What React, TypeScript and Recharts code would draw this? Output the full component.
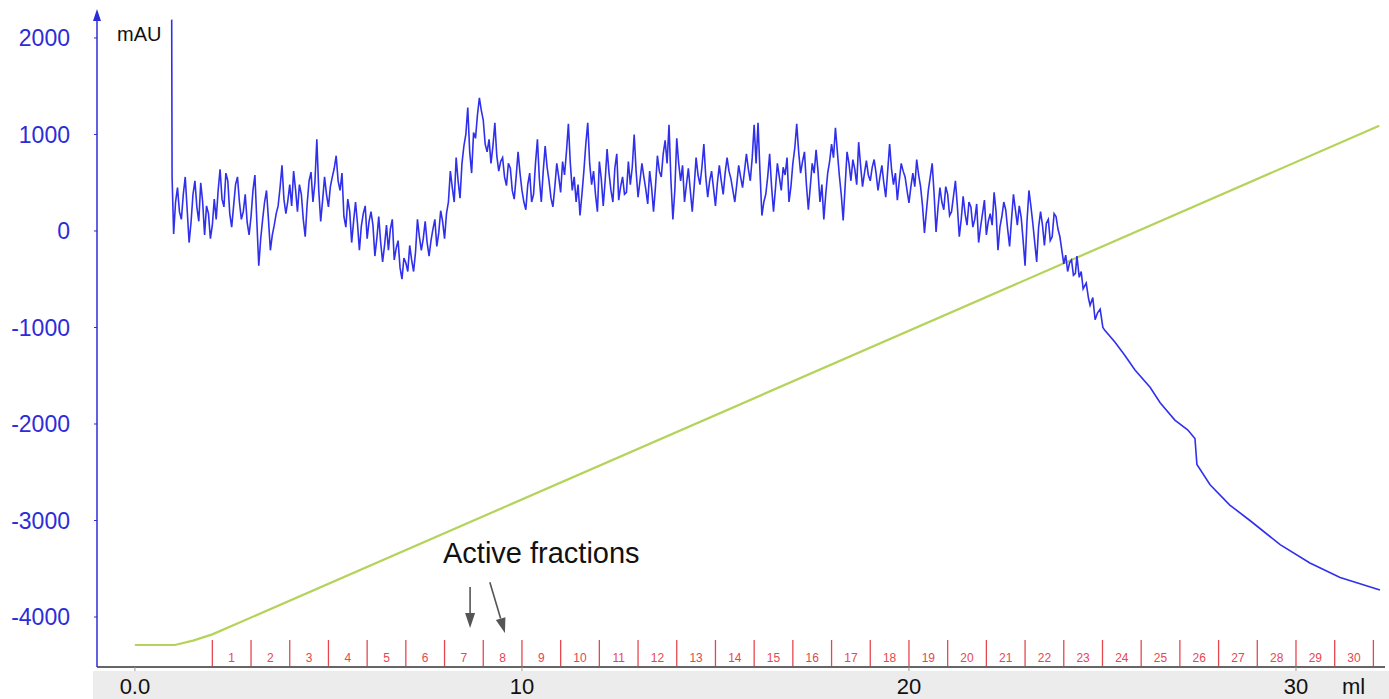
import { LineChart, Line, XAxis, YAxis, ReferenceLine, ReferenceArea, ReferenceDot } from 'recharts'

const FONT = '"Liberation Sans", Arial, sans-serif'
const UV_BLUE = '#3030ec'
const AXIS_BLUE = '#2c2cd8'
const GRADIENT_GREEN = '#b4d35a'
const FRACTION_RED = '#e6474f'

// UV trace (mAU vs ml)
const uvStart = [
    { ml: 0.95, mAU: 2190 },
    { ml: 0.96, mAU: 560 },
    { ml: 1.0, mAU: -30 },
    { ml: 1.05, mAU: 300 },
]

// noisy part, sampled every 0.05 ml from 1.1 to 23.9 ml (one row per ml)
const uvNoiseFrom = 1.1
const uvNoiseStep = 0.05
const uvNoise = [
    450, 200, 120, 380, 560, 220, -120, 90, 380, 520, 250, 100, 500, 300, -40, 260, 180, -80, 60, 330,
    120, 420, 640, 330, 250, 600, 520, 180, 40, 260, 480, 560, 300, 120, 200, 380, 90, -40, 150, 420,
    580, 100, -360, -80, 120, 300, 420, 120, -200, -40, 60, 180, 260, 450, 680, 330, 180, 310, 480, 260,
    620, 430, 200, 480, 380, 120, -60, 280, 520, 610, 300, 500, 950, 420, 100, 320, 560, 380, 250, 460,
    560, 650, 780, 520, 420, 600, 150, 40, 330, 200, -120, 100, 300, 80, -200, 50, 180, 260, -80, 100,
    200, 60, -260, -80, 150, -120, -320, -150, 60, -200, 20, 120, -300, -180, -100, -380, -500, -280, -330, -420,
    -150, -300, -420, -220, 120, -60, -200, -80, 100, -120, -260, -100, 20, 120, -160, -20, 210, 100, -80, 180,
    300, 620, 450, 300, 760, 520, 340, 700, 880, 1000, 1280, 820, 600, 1020, 960, 1200, 1380, 1250, 1150, 900,
    820, 950, 700, 880, 1120, 780, 620, 720, 760, 560, 470, 700, 650, 420, 330, 560, 820, 600, 420, 300,
    220, 480, 600, 300, 380, 700, 950, 540, 300, 620, 880, 660, 520, 340, 250, 460, 700, 560, 400, 720,
    580, 820, 1110, 700, 420, 560, 300, 480, 160, 380, 620, 900, 1120, 700, 480, 620, 380, 200, 720, 540,
    260, 520, 850, 600, 420, 300, 650, 800, 320, 460, 560, 380, 400, 720, 480, 660, 1000, 620, 350, 520,
    700, 560, 430, 280, 620, 450, 200, 460, 780, 620, 560, 800, 940, 700, 1100, 520, 120, 420, 960, 700,
    520, 680, 300, 480, 650, 420, 200, 460, 760, 580, 480, 660, 900, 560, 350, 520, 620, 440, 260, 500,
    680, 520, 380, 600, 760, 620, 540, 420, 300, 480, 680, 560, 450, 620, 800, 640, 520, 760, 1100, 700,
    1120, 620, 160, 300, 380, 560, 800, 460, 200, 440, 700, 560, 420, 660, 580, 760, 300, 460, 700, 860,
    1110, 820, 600, 720, 820, 480, 220, 460, 700, 600, 840, 620, 300, 480, 120, 380, 600, 720, 900, 760,
    1070, 820, 580, 380, 110, 460, 820, 700, 520, 740, 640, 480, 920, 680, 460, 600, 730, 580, 520, 660,
    740, 600, 420, 560, 680, 500, 350, 620, 900, 640, 480, 600, 320, 520, 700, 620, 560, 420, 290, 460,
    600, 460, 740, 580, 460, 260, -20, 200, 420, 560, 700, 380, -10, 240, 450, 300, 220, 460, 380, 160,
    200, 360, 520, 260, -60, 120, 360, 180, 60, 300, 250, 40, 120, 280, -120, 40, 180, 320, -40, 100,
    180, 60, 400, 200, -200, 40, 150, 300, 220, 20, -160, 120, 380, 220, 60, 260, 140, -100, -360, 100,
    420, 260, 80, -120, -320, 40, 200, 60, -150, 80, 120, -100, -60, 180, 150, 20, -60,
]

const uvTail = [
    { ml: 24.0, mAU: -340 }, { ml: 24.05, mAU: -250 }, { ml: 24.1, mAU: -420 }, { ml: 24.15, mAU: -330 },
    { ml: 24.2, mAU: -300 }, { ml: 24.25, mAU: -460 }, { ml: 24.3, mAU: -440 }, { ml: 24.34, mAU: -260 },
    { ml: 24.4, mAU: -480 }, { ml: 24.45, mAU: -420 }, { ml: 24.5, mAU: -600 }, { ml: 24.58, mAU: -540 },
    { ml: 24.64, mAU: -700 }, { ml: 24.68, mAU: -770 }, { ml: 24.75, mAU: -690 }, { ml: 24.81, mAU: -920 },
    { ml: 24.87, mAU: -850 }, { ml: 24.94, mAU: -810 }, { ml: 25.01, mAU: -1000 }, { ml: 25.06, mAU: -1030 },
    { ml: 25.32, mAU: -1150 }, { ml: 25.58, mAU: -1290 }, { ml: 25.84, mAU: -1440 },
    { ml: 26.23, mAU: -1620 }, { ml: 26.49, mAU: -1780 }, { ml: 26.87, mAU: -1960 },
    { ml: 27.2, mAU: -2060 }, { ml: 27.39, mAU: -2150 }, { ml: 27.44, mAU: -2420 },
    { ml: 27.78, mAU: -2630 }, { ml: 28.29, mAU: -2840 }, { ml: 28.81, mAU: -3000 },
    { ml: 29.59, mAU: -3250 }, { ml: 30.36, mAU: -3440 }, { ml: 31.14, mAU: -3590 },
    { ml: 32.17, mAU: -3720 },
]

// gradient trace (green), drawn on the mAU scale
const gradient = [
    { ml: 0, mAU: -4290 },
    { ml: 1.03, mAU: -4290 },
    { ml: 1.5, mAU: -4245 },
    { ml: 2.0, mAU: -4180 },
    { ml: 32.15, mAU: 1090 },
]

const fractionEdges = [2, 3, 4, 5, 6, 7, 8, 9, 10, 11, 12, 13, 14, 15, 16, 17, 18, 19, 20, 21, 22, 23, 24, 25, 26, 27, 28, 29, 30, 31, 32]
const fractionNames = ['1', '2', '3', '4', '5', '6', '7', '8', '9', '10', '11', '12', '13', '14', '15', '16', '17', '18', '19', '20', '21', '22', '23', '24', '25', '26', '27', '28', '29', '30']

const mlTicks = [0, 10, 20, 30]
const mauTicks = [-4000, -3000, -2000, -1000, 0, 1000, 2000]

const ML_DOMAIN = [-0.98, 32.3]
const MAU_DOMAIN = [-4518, 2269]
const FRACTION_TOP = -4238

const uvData = [
    ...uvStart,
    ...uvNoise.map((v, i) => ({ ml: +(uvNoiseFrom + i * uvNoiseStep).toFixed(2), mAU: v })),
    ...uvTail,
]

function AxisHead({ viewBox }: any) {
    const x = viewBox.x + viewBox.width
    const y = viewBox.y
    return (
        <g>
            <path d={`M${x},${y - 3} L${x - 4},${y + 9} L${x + 4},${y + 9} Z`} fill={AXIS_BLUE} />
            <text x={x + 20} y={y + 29} fontSize={20} fill="#111" fontFamily={FONT}>mAU</text>
        </g>
    )
}

function UnitLabel({ viewBox }: any) {
    return (
        <text x={viewBox.x + viewBox.width - 43} y={viewBox.y + 27} fontSize={22} fill="#111" fontFamily={FONT}>ml</text>
    )
}

function Note({ viewBox }: any) {
    return (
        <text x={viewBox.x} y={viewBox.y} fontSize={29} fill="#111" fontFamily={FONT}>Active fractions</text>
    )
}

function Arrow(p: any) {
    const { x1, y1, x2, y2 } = p
    const a = Math.atan2(y2 - y1, x2 - x1)
    const len = 15
    const w = 5
    const bx = x2 - len * Math.cos(a)
    const by = y2 - len * Math.sin(a)
    const nx = -Math.sin(a) * w
    const ny = Math.cos(a) * w
    return (
        <g>
            <line x1={x1} y1={y1} x2={bx} y2={by} stroke="#555" strokeWidth={1.6} />
            <path d={`M${x2},${y2} L${bx + nx},${by + ny} L${bx - nx},${by - ny} Z`} fill="#555" />
        </g>
    )
}

export default function App() {
    return (
        <div style={{ position: 'absolute', left: 0, top: 0, width: 1389, height: 699, background: '#fff' }}>
            <div style={{ position: 'absolute', left: 93, top: 671, width: 1296, height: 28, background: '#ececec' }} />
            <div style={{ position: 'absolute', left: 0, top: 0 }}>
                <LineChart width={1389} height={699} data={uvData} margin={{ top: 12, right: 4, left: 0, bottom: 0 }}>
                    <XAxis
                        dataKey="ml"
                        type="number"
                        domain={ML_DOMAIN}
                        ticks={mlTicks}
                        allowDataOverflow
                        tickFormatter={(v) => (v === 0 ? '0.0' : String(v))}
                        axisLine={{ stroke: '#666', strokeWidth: 2 }}
                        tickLine={{ stroke: '#999' }}
                        tickSize={4}
                        tickMargin={7}
                        tick={{ fontSize: 22, fill: '#111', fontFamily: FONT }}
                        height={32}
                        label={<UnitLabel />}
                    />
                    <YAxis
                        type="number"
                        domain={MAU_DOMAIN}
                        ticks={mauTicks}
                        allowDataOverflow
                        width={97}
                        axisLine={{ stroke: AXIS_BLUE, strokeWidth: 1.5 }}
                        tickLine={{ stroke: AXIS_BLUE }}
                        tickSize={3}
                        tickMargin={24}
                        tick={{ fontSize: 23, fill: AXIS_BLUE, fontFamily: FONT }}
                        label={<AxisHead />}
                    />
                    {fractionEdges.map((e) => (
                        <ReferenceLine
                            key={`edge-${e}`}
                            segment={[{ x: e, y: FRACTION_TOP }, { x: e, y: MAU_DOMAIN[0] }]}
                            stroke={FRACTION_RED}
                            strokeWidth={1.3}
                        />
                    ))}
                    {fractionNames.map((n, i) => (
                        <ReferenceArea
                            key={`frac-${n}`}
                            x1={fractionEdges[i]}
                            x2={fractionEdges[i + 1]}
                            y1={MAU_DOMAIN[0]}
                            y2={FRACTION_TOP}
                            fill="none"
                            stroke="none"
                            label={{ value: n, position: 'insideBottom', offset: 5, fill: FRACTION_RED, fontSize: 12, fontFamily: FONT }}
                        />
                    ))}
                    <Line
                        data={gradient}
                        dataKey="mAU"
                        type="linear"
                        stroke={GRADIENT_GREEN}
                        strokeWidth={2.2}
                        dot={false}
                        isAnimationActive={false}
                    />
                    <Line
                        dataKey="mAU"
                        type="linear"
                        stroke={UV_BLUE}
                        strokeWidth={1.6}
                        dot={false}
                        isAnimationActive={false}
                    />
                    <ReferenceDot x={7.96} y={-3440} r={0} fill="none" stroke="none" label={<Note />} />
                    <ReferenceLine segment={[{ x: 8.66, y: -3690 }, { x: 8.66, y: -4115 }]} shape={<Arrow />} />
                    <ReferenceLine segment={[{ x: 9.17, y: -3640 }, { x: 9.56, y: -4165 }]} shape={<Arrow />} />
                </LineChart>
            </div>
        </div>
    )
}
